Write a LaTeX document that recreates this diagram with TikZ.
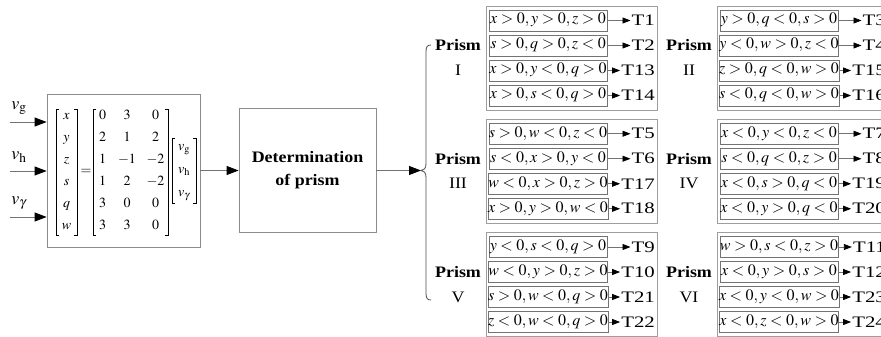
\documentclass[tikz,border=0pt]{standalone}
\usepackage{mathptmx}
\usepackage{fontspec}
\setmainfont{Liberation Serif}
\usepackage{graphicx}
\usetikzlibrary{arrows.meta}
\newcommand{\hs}[2]{\scalebox{#1}[1]{#2}}
\begin{document}
\begin{tikzpicture}[x=1pt,y=-1pt,
  cond/.style={draw=black!55, line width=0.8pt, minimum width=118pt, minimum height=21pt, inner sep=0pt, text height=11pt, text depth=4pt, font=\fontsize{16}{19}\selectfont},
  grp/.style={draw=black!38, line width=0.8pt, minimum width=171pt, minimum height=104pt, inner sep=0pt},
  tlab/.style={anchor=east, inner sep=1pt, font=\fontsize{16}{19}\selectfont},
  plab/.style={inner sep=0pt, font=\fontsize{16}{19}\selectfont},
  conn/.style={draw=black!55, line width=0.8pt, -{Triangle[length=8pt,width=6pt,color=black]}},
  bigconn/.style={draw=black!55, line width=0.8pt, -{Triangle[length=12pt,width=9pt,color=black]}},
  blk/.style={draw=black!45, line width=0.8pt, inner sep=0pt},
  inlab/.style={inner sep=0pt, font=\fontsize{18}{21}\selectfont},
  ment/.style={inner sep=0pt, text height=9pt, text depth=3pt, font=\fontsize{14}{17}\selectfont},
  brk/.style={draw=black, line width=0.7pt}
]
\useasboundingbox (0,0) rectangle (881,337);

% matrix box
\node[blk, minimum width=153pt, minimum height=153pt] (mbox) at (123.5,170.5) {};
% left vector
\foreach \v [count=\i from 0] in {x,y,z,s,q,w}
  \node[ment] (lv\i) at (66.5,116+22*\i) {$\v$};
\draw[brk] (59,109) -- (56,109) -- (56,235) -- (59,235);
\draw[brk] (74,109) -- (77,109) -- (77,235) -- (74,235);
\node[ment] (eqs) at (86,171) {$=$};
% matrix
\foreach \a/\b/\c [count=\i from 0] in {0/3/0,2/1/2,1/-1/-2,1/2/-2,3/0/0,3/3/0}{
  \node[ment] (ma\i) at (102.5,116+22*\i) {$\a$};
  \node[ment] (mb\i) at (127,116+22*\i) {$\b$};
  \node[ment] (mc\i) at (155.5,116+22*\i) {$\c$};
}
\draw[brk] (96,109) -- (93,109) -- (93,235) -- (96,235);
\draw[brk] (165,109) -- (168,109) -- (168,235) -- (165,235);
% right vector
\node[ment] (rv0) at (184,147) {$v_{\mathrm{g}}$};
\node[ment] (rv1) at (184,170) {$v_{\mathrm{h}}$};
\node[ment] (rv2) at (184,193) {$v_{\gamma}$};
\draw[brk] (175,138) -- (172,138) -- (172,203) -- (175,203);
\draw[brk] (193,138) -- (196,138) -- (196,203) -- (193,203);

% inputs
\coordinate (ig) at (10,122);
\coordinate (ih) at (10,171);
\coordinate (iy) at (10,217);
\node[inlab] (lg) at (19,108) {$v_{\mathrm{g}}$};
\node[inlab] (lh) at (19,157) {$v_{\mathrm{h}}$};
\node[inlab] (ly) at (19,203) {$v_{\gamma}$};
\draw[bigconn] (ig) -- (ig -| mbox.west);
\draw[bigconn] (ih) -- (ih -| mbox.west);
\draw[bigconn] (iy) -- (iy -| mbox.west);

% determination box
\node[blk, minimum width=137pt, minimum height=124pt, align=center,
      font=\fontsize{16}{23}\selectfont] (det) at (307.5,170.5)
 {\hs{1.12}{\textbf{Determination}}\\ \hs{1.12}{\textbf{of prism}}};
\draw[bigconn] (mbox.east) -- (det.west);

% brace
\coordinate (btip) at (421,170.5);
\draw[bigconn] (det.east) -- (btip);
\draw[black!70, line width=0.8pt] (431,45) .. controls (427,45) and (426,47) .. (426,52)
  -- (426,163.5) .. controls (426,168.5) and (424,170.5) .. (btip)
  .. controls (424,170.5) and (426,172.5) .. (426,177.5)
  -- (426,293) .. controls (426,298) and (427,300) .. (431,300);

% groups
\foreach \g/\gx/\gy/\num/\ca/\ta/\cb/\tb/\cc/\tc/\cd/\td in {
 1/0/58/I/{x>0,y>0,z>0}/T1/{s>0,q>0,z<0}/T2/{x>0,y<0,q>0}/T13/{x>0,s<0,q>0}/T14,
 2/231/58/II/{y>0,q<0,s>0}/T3/{y<0,w>0,z<0}/T4/{z>0,q<0,w>0}/T15/{s<0,q<0,w>0}/T16,
 3/0/171.25/III/{s>0,w<0,z<0}/T5/{s<0,x>0,y<0}/T6/{w<0,x>0,z>0}/T17/{x>0,y>0,w<0}/T18,
 4/231/171.25/IV/{x<0,y<0,z<0}/T7/{s<0,q<0,z>0}/T8/{x<0,s>0,q<0}/T19/{x<0,y>0,q<0}/T20,
 5/0/284.5/V/{y<0,s<0,q>0}/T9/{w<0,y>0,z>0}/T10/{s>0,w<0,q>0}/T21/{z<0,w<0,q>0}/T22,
 6/231/284.5/VI/{w>0,s<0,z>0}/T11/{x<0,y>0,s>0}/T12/{x<0,y<0,w>0}/T23/{x<0,z<0,w>0}/T24}
{
  \node[grp] (grp\g) at (571.5+\gx,\gy) {};
  \node[plab] (pr\g) at (458+\gx,\gy-12.5) {\hs{1.12}{\textbf{Prism}}};
  \node[plab] (nm\g) at (458+\gx,\gy+12.5) {\hs{1.12}{\num}};
  \node[cond] (c\g a) at (548+\gx,\gy-37.5) {$\ca$};
  \node[cond] (c\g b) at (548+\gx,\gy-12.5) {$\cb$};
  \node[cond] (c\g c) at (548+\gx,\gy+12.5) {$\cc$};
  \node[cond] (c\g d) at (548+\gx,\gy+37.5) {$\cd$};
  \node[tlab] (t\g a) at (656+\gx,\gy-37.5) {\hs{1.3}{\ta}};
  \node[tlab] (t\g b) at (656+\gx,\gy-12.5) {\hs{1.3}{\tb}};
  \node[tlab] (t\g c) at (656+\gx,\gy+12.5) {\hs{1.3}{\tc}};
  \node[tlab] (t\g d) at (656+\gx,\gy+37.5) {\hs{1.3}{\td}};
  \draw[conn] (c\g a) -- (t\g a);
  \draw[conn] (c\g b) -- (t\g b);
  \draw[conn] (c\g c) -- (t\g c);
  \draw[conn] (c\g d) -- (t\g d);
}
\end{tikzpicture}
\end{document}
